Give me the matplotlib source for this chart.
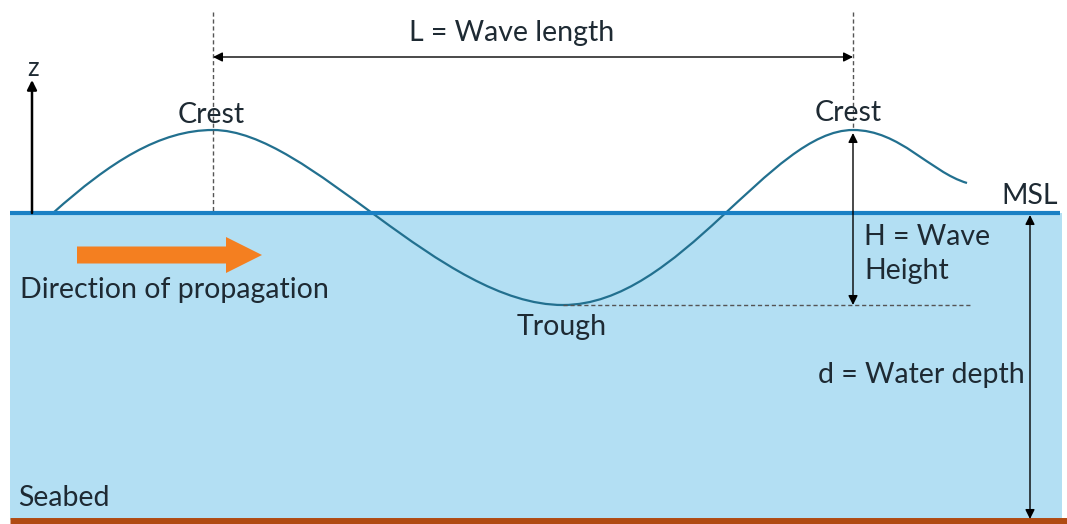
import matplotlib.pyplot as plt
from matplotlib.path import Path
from matplotlib.patches import PathPatch, Rectangle, FancyArrow

# diagram geometry in pixel units (y grows downward)
msl_y = 213
seabed_y = 520
crest_x = [213, 853]
crest_y = 130
trough = (563, 305)

# wave outline: anchor points and bezier control points
wave_verts = [(53, 213), (110, 162), (160, 130), (213, 130),
              (310, 130), (440, 305), (563, 305),
              (680, 305), (770, 130), (853, 130),
              (900, 130), (930, 172), (967, 183)]

labels = {
    'L': 'L = Wave length',
    'H1': 'H = Wave',
    'H2': 'Height',
    'd': 'd = Water depth',
}

txt = '#1e2a33'
plt.rcParams['font.family'] = ['Lato', 'DejaVu Sans']

fig = plt.figure(figsize=(10.67, 5.24), dpi=100)
ax = fig.add_axes([0, 0, 1, 1])
ax.set_xlim(0, 1067)
ax.set_ylim(524, 0)
ax.axis('off')

# water body
ax.add_patch(Rectangle((10, msl_y), 1052, seabed_y - msl_y, facecolor='#b3dff3', edgecolor='none'))
ax.plot([10, 1060], [msl_y, msl_y], color='#1a80c4', lw=3, solid_capstyle='butt')
ax.plot([10, 1067], [seabed_y + 1, seabed_y + 1], color='#b04a12', lw=5, solid_capstyle='butt')

# wave
codes = [Path.MOVETO] + [Path.CURVE4] * (len(wave_verts) - 1)
ax.add_patch(PathPatch(Path(wave_verts, codes), facecolor='none', edgecolor='#22708f', lw=1.6))

# dashed guides
ax.plot([crest_x[0], crest_x[0]], [12, msl_y], ls=(0, (3, 2)), color='#555555', lw=1)
ax.plot([crest_x[1], crest_x[1]], [12, crest_y], ls=(0, (3, 2)), color='#555555', lw=1)
ax.plot([trough[0], 972], [trough[1], trough[1]], ls=(0, (3, 2)), color='#555555', lw=1)

arrow_kw = dict(arrowstyle='<|-|>', color='black', lw=1, mutation_scale=14, shrinkA=0, shrinkB=0)
ax.annotate('', xy=(crest_x[0], 57), xytext=(crest_x[1], 57), arrowprops=arrow_kw)
ax.annotate('', xy=(crest_x[1], 133), xytext=(crest_x[1], trough[1]), arrowprops=arrow_kw)
ax.annotate('', xy=(1030, msl_y + 2), xytext=(1030, seabed_y - 1), arrowprops=arrow_kw)
ax.annotate('', xy=(32, 80), xytext=(32, msl_y),
            arrowprops=dict(arrowstyle='-|>', color='black', lw=1.8, mutation_scale=14, shrinkA=0, shrinkB=0))

# propagation arrow
ax.add_patch(FancyArrow(77, 255, 185, 0, width=17, head_width=36, head_length=36,
                        length_includes_head=True, color='#f47f20', lw=0))

fs = 20.5
ax.text(512, 33, labels['L'], ha='center', va='center', fontsize=fs, color=txt)
ax.text(33, 68, 'z', ha='center', va='center', fontsize=fs - 2, color=txt)
ax.text(211, 115, 'Crest', ha='center', va='center', fontsize=fs, color=txt)
ax.text(848, 113, 'Crest', ha='center', va='center', fontsize=fs, color=txt)
ax.text(1030, 196, 'MSL', ha='center', va='center', fontsize=fs, color=txt)
ax.text(864, 237, labels['H1'], ha='left', va='center', fontsize=fs, color=txt)
ax.text(864, 271, labels['H2'], ha='left', va='center', fontsize=fs, color=txt)
ax.text(562, 327, 'Trough', ha='center', va='center', fontsize=fs, color=txt)
ax.text(818, 375, labels['d'], ha='left', va='center', fontsize=fs, color=txt)
ax.text(20, 290, 'Direction of propagation', ha='left', va='center', fontsize=fs, color=txt)
ax.text(18, 498, 'Seabed', ha='left', va='center', fontsize=fs, color=txt)

fig.savefig('out.png', dpi=100)
